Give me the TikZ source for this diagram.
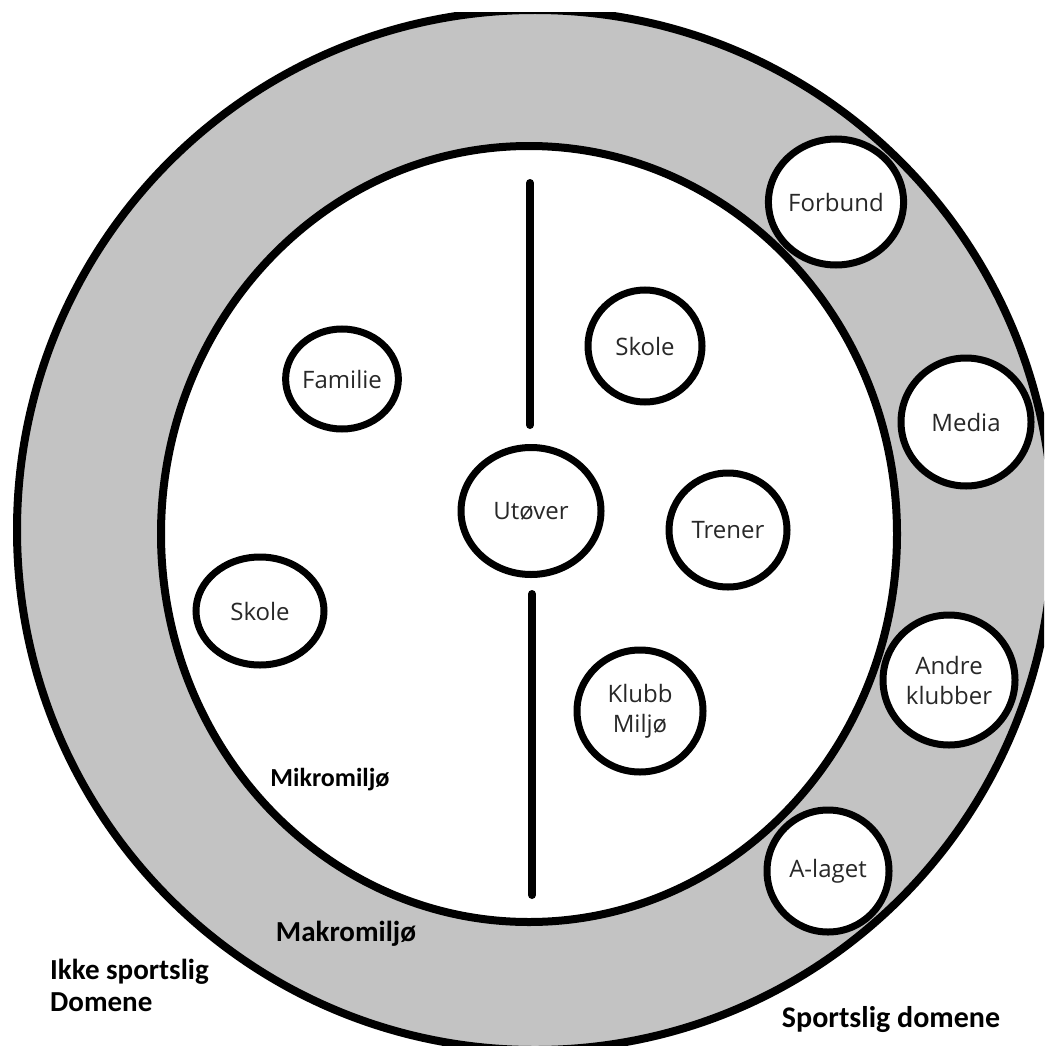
\documentclass[tikz,border=0pt]{standalone}
\usepackage{fontspec}
\setmainfont{Open Sans}
\newfontfamily\labelfont{Carlito}
\usetikzlibrary{shapes.geometric}
\definecolor{ringgray}{RGB}{195,195,195}
\definecolor{txtgray}{RGB}{40,40,40}
\tikzset{
  ring/.style={draw=black, line width=8pt},
  bubble/.style={ellipse, draw=black, line width=7pt, fill=white, inner sep=0pt,
    align=center, font=\fontsize{24}{30}\selectfont, text=txtgray},
  divider/.style={line width=8pt, line cap=round},
  domlabel/.style={font=\labelfont\bfseries\fontsize{29}{33}\selectfont, text=black, inner sep=0pt}
}
\begin{document}
\begin{tikzpicture}[x=1pt,y=-1pt]
\useasboundingbox (0,0) rectangle (1044,1046);
\begin{scope}
  \clip (0,13) rectangle (1044,1046);
  \draw[ring, fill=ringgray] (535,530) ellipse [x radius=518, y radius=520];
\end{scope}
\draw[ring, fill=white] (529,534) ellipse [x radius=368, y radius=388];
% divider
\coordinate (vtop1) at (530,183);
\coordinate (vtop2) at (530,425);
\coordinate (vbot1) at (532,594);
\coordinate (vbot2) at (532,895);
\draw[divider] (vtop1) -- (vtop2);
\draw[divider] (vbot1) -- (vbot2);
% bubbles
\node[bubble, minimum width=130pt, minimum height=126pt] (forbund) at (836,202) {Forbund};
\node[bubble, minimum width=114pt, minimum height=112pt] (skoleR) at (645,346) {Skole};
\node[bubble, minimum width=102pt, minimum height=100pt] (familie) at (342,379) {Familie};
\node[bubble, minimum width=130pt, minimum height=128pt] (media) at (966,422) {Media};
\node[bubble, minimum width=140pt, minimum height=127pt] (utover) at (531,511) {Utøver};
\node[bubble, minimum width=118pt, minimum height=114pt] (trener) at (728,530) {Trener};
\node[bubble, minimum width=128pt, minimum height=108pt] (skoleL) at (260,611) {Skole};
\node[bubble, minimum width=132pt, minimum height=130pt] (andre) at (949,680) {Andre\\klubber};
\node[bubble, minimum width=126pt, minimum height=122pt] (klubb) at (640,711) {Klubb\\Miljø};
\node[bubble, minimum width=122pt, minimum height=122pt] (alaget) at (828,871) {A-laget};
% domain labels
\node[domlabel, font=\labelfont\bfseries\fontsize{26}{30}\selectfont] (mikro) at (330,780) {Mikromiljø};
\node[domlabel] (makro) at (346,934) {Makromiljø};
\node[domlabel, anchor=west, align=left, font=\labelfont\bfseries\fontsize{29}{32}\selectfont] (ikke) at (50,985) {Ikke sportslig\\Domene};
\node[domlabel, font=\labelfont\bfseries\fontsize{30}{34}\selectfont] (sport) at (891,1020) {Sportslig domene};
\end{tikzpicture}
\end{document}
